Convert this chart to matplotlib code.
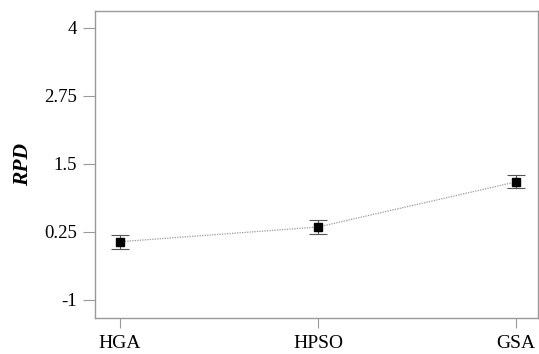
import numpy as np
import matplotlib
matplotlib.use("Agg")
from matplotlib import pyplot as plt

algorithms = ["HGA", "HPSO", "GSA"]
rpd_mean = [0.07, 0.34, 1.17]
rpd_err = [0.125, 0.12, 0.12]
y_ticks = [-1, 0.25, 1.5, 2.75, 4]
y_tick_labels = ["-1", "0.25", "1.5", "2.75", "4"]

plt.rcParams['font.family'] = ['Liberation Serif', 'DejaVu Serif']

fig = plt.figure(figsize=(5.39, 3.54), dpi=100)
ax = fig.add_axes([0.176, 0.102, 0.822, 0.867])

x = np.arange(len(algorithms))
# dotted connecting line, then error bars and square markers on top
ax.plot(x, rpd_mean, linestyle=(0, (1, 1)), color="#999999", linewidth=0.9, zorder=1)
ax.errorbar(x, rpd_mean, yerr=rpd_err, fmt="none", ecolor="#555555",
            elinewidth=0.8, capsize=6.5, capthick=0.8, zorder=2)
ax.plot(x, rpd_mean, linestyle="none", marker="s", markersize=6,
        color="black", zorder=3)

ax.set_xlim(-0.126, 2.11)
ax.set_ylim(-1.33, 4.31)
ax.set_xticks(x)
ax.set_xticklabels(algorithms, fontsize=14)
ax.set_yticks(y_ticks)
ax.set_yticklabels(y_tick_labels, fontsize=13.5)
ax.set_ylabel("RPD", fontsize=15.5, fontweight="bold", style="italic", labelpad=8)

for s in ax.spines.values():
    s.set_color("#999999")
    s.set_linewidth(1.0)
ax.tick_params(axis="y", direction="out", length=9, color="#999999", pad=4)
ax.tick_params(axis="x", direction="out", length=7, color="#999999", pad=5)

fig.savefig("out.png", dpi=100)
